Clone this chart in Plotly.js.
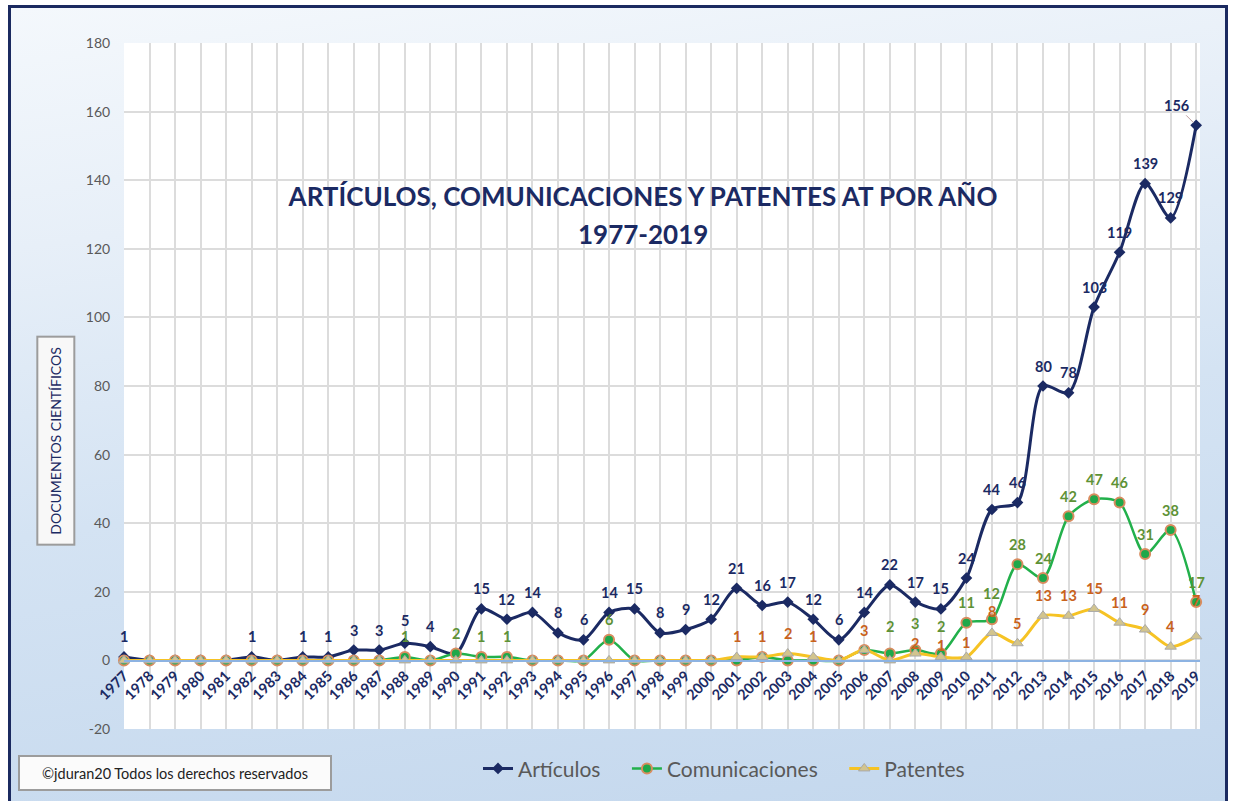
<!DOCTYPE html>
<html><head><meta charset="utf-8">
<script src="https://cdn.plot.ly/plotly-3.0.1.min.js"></script>
<style>
html,body{margin:0;padding:0;background:#fff;width:1233px;height:801px;overflow:hidden}
#frame{position:absolute;left:8px;top:5px;width:1220px;height:800px;border:3px solid #1b2a60;box-sizing:border-box;
background:linear-gradient(172deg,#f4f8fc 0%,#e7eff8 25%,#d4e3f3 55%,#c3d7ed 100%)}
#chart{position:absolute;left:0;top:0;width:1233px;height:801px}
</style></head><body><div id="frame"></div><div id="chart"></div>
<script>
const years = [1977,1978,1979,1980,1981,1982,1983,1984,1985,1986,1987,1988,1989,1990,1991,1992,1993,1994,1995,1996,1997,1998,1999,2000,2001,2002,2003,2004,2005,2006,2007,2008,2009,2010,2011,2012,2013,2014,2015,2016,2017,2018,2019];
const articulos =      [1,0,0,0,0,1,0,1,1,3,3,5,4,2,15,12,14,8,6,14,15,8,9,12,21,16,17,12,6,14,22,17,15,24,44,46,80,78,103,119,139,129,156];
const comunicaciones = [0,0,0,0,0,0,0,0,0,0,0,1,0,2,1,1,0,0,0,6,0,0,0,0,0,1,0,0,0,3,2,3,2,11,12,28,24,42,47,46,31,38,17];
const patentes =       [0,0,0,0,0,0,0,0,0,0,0,0,0,0,0,0,0,0,0,0,0,0,0,0,1,1,2,1,0,3,0,2,1,1,8,5,13,13,15,11,9,4,7];
const seriesNames = ['Artículos','Comunicaciones','Patentes'];
const hiddenLabelYears = {art:[1990], com:[2002,2006], pat:[]};
const yTicks = [-20,0,20,40,60,80,100,120,140,160,180];
const titleLine1 = 'ARTÍCULOS, COMUNICACIONES Y PATENTES AT POR AÑO';
const titleLine2 = '1977-2019';
const yTitle = 'DOCUMENTOS CIENTÍFICOS';
const copyright = '©jduran20 Todos los derechos reservados';

// label vertical offsets (px) where the reference moves a label
const labelShift = {art:{1988:23}, com:{2007:27,2008:27,2009:27,2011:26}, pat:{2008:10,2009:11,2010:14,2011:21,2019:36}};

const NAVY = '#1b2a63', GREEN = '#22b04b', YEL = '#f6c324';
const FONT = 'Lato, "Open Sans", sans-serif';
const NB = '\u00a0';

const traces = [
  {x: years, y: articulos, name: seriesNames[0] + NB.repeat(4), type:'scatter', mode:'lines+markers', cliponaxis:false,
   line:{color:NAVY, width:3, shape:'spline', smoothing:0.8}, marker:{symbol:'diamond', size:9, color:NAVY}},
  {x: years, y: comunicaciones, name: seriesNames[1] + NB.repeat(4), type:'scatter', mode:'lines+markers', cliponaxis:false,
   line:{color:GREEN, width:2.5, shape:'spline', smoothing:0.8}, marker:{symbol:'circle', size:10, color:'#1fa84a', line:{color:'#d98c5f', width:2}}},
  {x: years, y: patentes, name: seriesNames[2], type:'scatter', mode:'lines+markers', cliponaxis:false,
   line:{color:YEL, width:3, shape:'spline', smoothing:0.8}, marker:{symbol:'triangle-up', size:10, color:'#d2c48e', line:{color:'#a9a9a9', width:1}}}
];

function labelAnns(vals, hidden, color, shifts){
  const out = [];
  vals.forEach((v,i)=>{
    if (v > 0 && hidden.indexOf(years[i]) < 0) {
      out.push({x: years[i], y: v, xref:'x', yref:'y', text: String(v), showarrow:false,
        yshift: (shifts[years[i]] !== undefined ? shifts[years[i]] : 20),
        font:{family:FONT, size:14.5, color:color, weight:'bold'}});
    }
  });
  return out;
}
let anns = [].concat(
  labelAnns(articulos, hiddenLabelYears.art, NAVY, labelShift.art),
  labelAnns(comunicaciones, hiddenLabelYears.com, '#5e9236', labelShift.com),
  labelAnns(patentes, hiddenLabelYears.pat, '#c9621c', labelShift.pat)
);
const lastIdx = articulos.length - 1;
anns = anns.map(a => (a.x === years[lastIdx] && a.y === articulos[lastIdx] && a.font.color === NAVY)
  ? Object.assign({}, a, {showarrow:true, arrowhead:0, arrowwidth:1, arrowcolor:'#c0a0a0', ax:-20, ay:-20, yshift:0, standoff:4}) : a);

anns.push({xref:'paper', yref:'paper', x:(643-124)/1076, y:(733-235)/690, xanchor:'center', yanchor:'middle',
  text:titleLine2, showarrow:false, font:{family:FONT, size:26, color:NAVY, weight:'bold'}});
anns.push({xref:'paper', yref:'paper', x:(56-124)/1076, y:(733-443)/690, xanchor:'center', yanchor:'middle',
  text:yTitle, textangle:-90, showarrow:false,
  font:{family:FONT, size:14, color:NAVY}, bgcolor:'#f8f8f8', bordercolor:'#9c9c9c', borderwidth:2, borderpad:9});
anns.push({xref:'paper', yref:'paper', x:(174.5-124)/1076, y:(733-777)/690, xanchor:'center', yanchor:'middle',
  text:copyright, showarrow:false, width:300, height:22,
  font:{family:FONT, size:14.5, color:'#222'}, bgcolor:'#fbfbfb', bordercolor:'#9c9c9c', borderwidth:2, borderpad:5});

const layout = {
  width:1233, height:801,
  margin:{l:124, r:33, t:43, b:68},
  paper_bgcolor:'rgba(0,0,0,0)', plot_bgcolor:'#ffffff',
  title:{text:titleLine1, xref:'container', yref:'container', x:0.5215, y:1-197/801, xanchor:'center', yanchor:'middle',
    font:{family:FONT, size:26, color:NAVY, weight:'bold'}},
  showlegend:true,
  legend:{orientation:'h', x:(478-124)/1076, xanchor:'left', y:(733-773)/690, yanchor:'middle',
    font:{family:FONT, size:21, color:'#595959'}, bgcolor:'rgba(0,0,0,0)', itemwidth:30},
  xaxis:{type:'linear', range:[1977, 2019.15], tickmode:'array', tickvals:years, ticktext:years.map(String),
    tickangle:-45, anchor:'free', position:0.1, showline:true, linecolor:'#8db3e2', linewidth:1.5,
    showgrid:true, gridcolor:'#dcdcdc', gridwidth:2, zeroline:false, ticks:'',
    tickfont:{family:FONT, size:14.5, color:NAVY, weight:'bold'}},
  yaxis:{range:[-20,180], tickmode:'array', tickvals:yTicks, ticktext:yTicks.map(String), showgrid:true, gridcolor:'#dcdcdc', gridwidth:2, zeroline:false,
    ticks:'outside', ticklen:10, tickcolor:'rgba(0,0,0,0)', tickfont:{family:FONT, size:14, color:'#595959'}},
  annotations: anns
};
Plotly.newPlot('chart', traces, layout, {displayModeBar:false, staticPlot:true});
</script></body></html>
